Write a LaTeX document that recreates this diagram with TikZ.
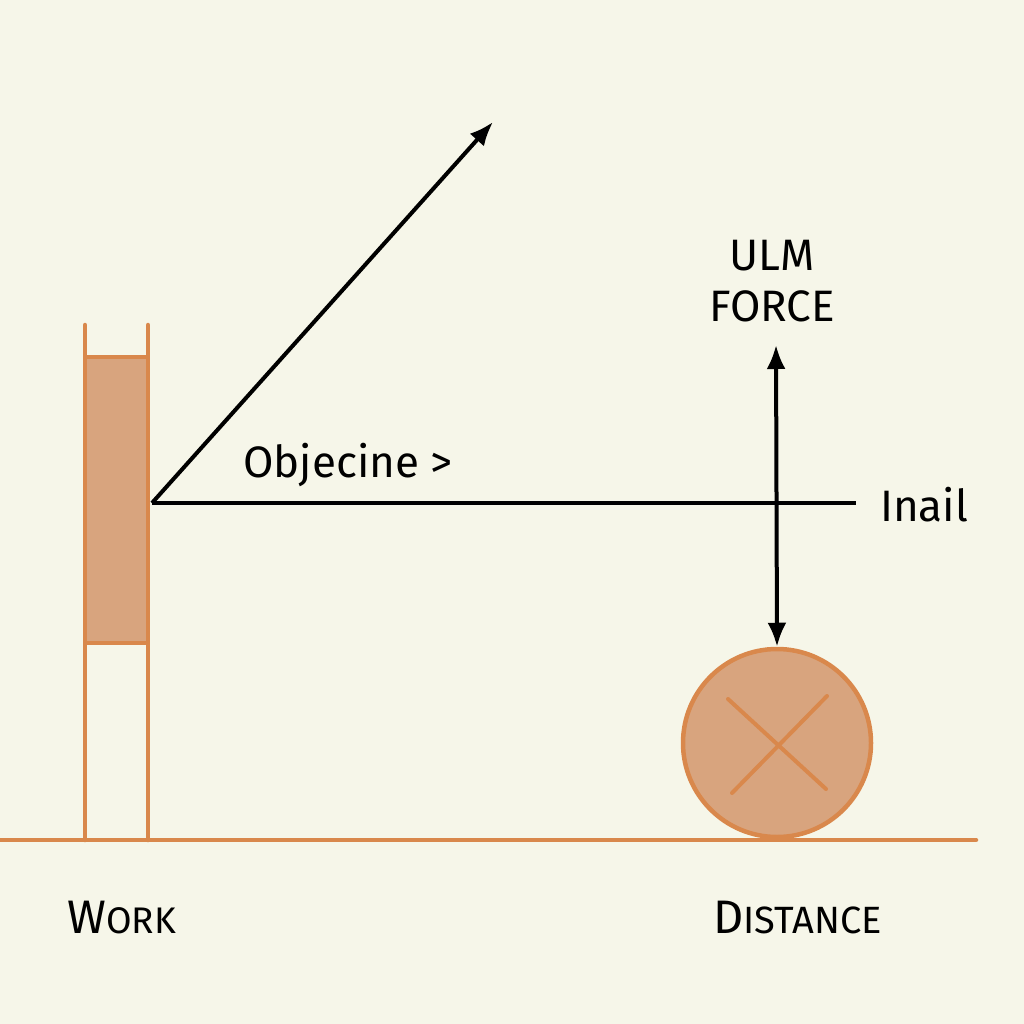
\documentclass[tikz,border=0pt]{standalone}
\usepackage{fontspec}
\setmainfont{Fira Sans}
\usetikzlibrary{arrows.meta}
\definecolor{bg}{HTML}{F6F6E9}
\definecolor{orng}{HTML}{D9884C}
\definecolor{orfill}{HTML}{D8A47E}
\tikzset{
  ostroke/.style={draw=orng, line width=4.5pt},
  vec/.style={draw=black, line width=4pt},
  tip/.style={-{Latex[length=24pt,width=19pt]}},
  lbl/.style={inner sep=0pt, text=black, font=\fontsize{44}{44}\selectfont},
}
\begin{document}
\begin{tikzpicture}[x=1pt,y=-1pt]
\fill[bg] (0,0) rectangle (1024,1024);
\useasboundingbox (0,0) rectangle (1024,1024);
% ground
\coordinate (g0) at (0,840);
\coordinate (g1) at (976,840);
\draw[ostroke, line cap=round] (g0) -- (g1);
% posts and plate
\draw[ostroke, fill=orfill] (85,357) rectangle (148,643);
\coordinate (p1a) at (85,325); \coordinate (p1b) at (85,840);
\coordinate (p2a) at (148,325); \coordinate (p2b) at (148,840);
\draw[ostroke, line cap=round] (p1a) -- (p1b);
\draw[ostroke, line cap=round] (p2a) -- (p2b);
% wheel
\node[circle, ostroke, fill=orfill, minimum size=188pt, inner sep=0pt] (wheel) at (777,743) {};
\draw[ostroke, line width=4pt, line cap=round] (728,699) -- (826,789);
\draw[ostroke, line width=4pt, line cap=round] (732,793) -- (827,696);
% vectors
\coordinate (o) at (152,503);
\coordinate (hend) at (856,503);
\coordinate (dend) at (493,122);
\coordinate (vtop) at (776,345);
\draw[vec] (o) -- (hend);
\draw[vec, tip] (o) -- (dend);
\draw[vec, {Latex[length=24pt,width=19pt]}-{Latex[length=24pt,width=19pt]}] (vtop) -- (wheel.north);
% labels
\node[lbl, anchor=center] (ulm) at (772,256) {ULM};
\node[lbl, anchor=center] (force) at (772,306) {FORCE};
\node[lbl, anchor=west] (inail) at (880,505) {Inail};
\node[lbl, anchor=west] (obj) at (243,465) {Objecine >};
\node[lbl, anchor=west] (work) at (67,918) {{\fontsize{47}{47}\selectfont W}{\fontsize{37}{37}\selectfont ORK}};
\node[lbl, anchor=west] (dist) at (713,918) {{\fontsize{47}{47}\selectfont D}{\fontsize{38}{38}\selectfont ISTANCE}};
\end{tikzpicture}
\end{document}
